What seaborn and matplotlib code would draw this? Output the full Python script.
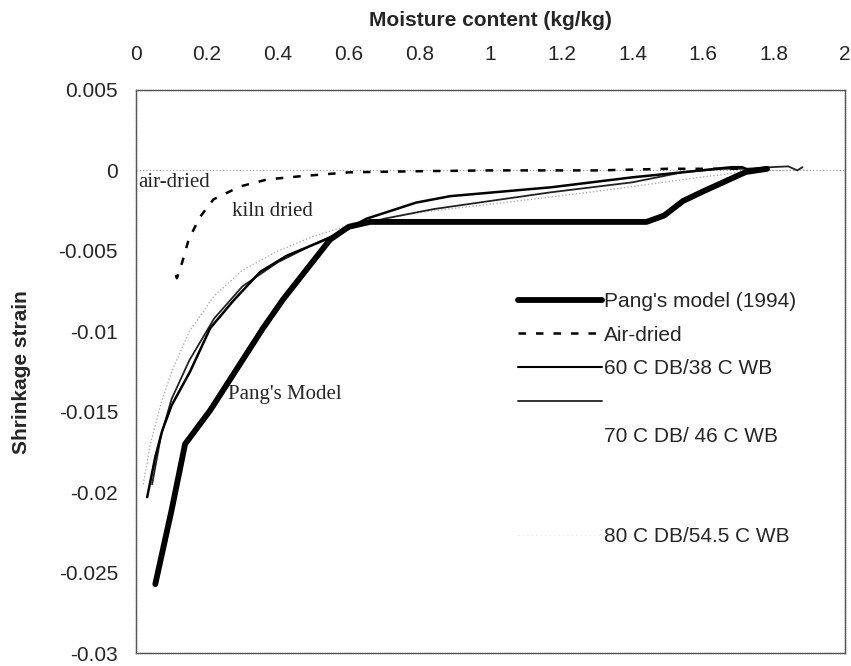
import matplotlib
matplotlib.use("Agg")
import matplotlib.pyplot as plt
import seaborn as sns
from matplotlib.lines import Line2D

# ---- data ----
pang_x = [0.054, 0.10, 0.138, 0.209, 0.358, 0.415, 0.547, 0.60, 0.66, 0.70, 1.0, 1.44, 1.49, 1.543, 1.60, 1.64, 1.72, 1.78]
pang_y = [-0.0257, -0.0211, -0.0170, -0.0149, -0.0098, -0.0080, -0.0043, -0.0035, -0.0032, -0.0032, -0.0032, -0.0032,
          -0.0028, -0.0019, -0.0013, -0.0009, -0.0001, 0.0001]

air_x = [0.112, 0.115, 0.13, 0.148, 0.18, 0.218, 0.293, 0.37, 0.46, 0.60, 0.8, 1.0, 1.3, 1.5, 1.7]
air_y = [-0.0065, -0.0067, -0.0057, -0.0043, -0.0029, -0.0018, -0.0010, -0.00056, -0.00037, -0.00012,
         -0.00005, 0.0, 0.0, 0.0001, 0.0001]

c60_x = [0.031, 0.054, 0.073, 0.10, 0.152, 0.209, 0.274, 0.35, 0.425, 0.556, 0.65, 0.79, 0.886, 1.17,
         1.40, 1.55, 1.68, 1.71, 1.73]
c60_y = [-0.0203, -0.0178, -0.0162, -0.0146, -0.0125, -0.0098, -0.0081, -0.0063, -0.0053, -0.0041, -0.0030,
         -0.0020, -0.0016, -0.00105, -0.00043, -0.0001, 0.0002, 0.0002, 0.0]

c70_x = [0.045, 0.07, 0.10, 0.15, 0.22, 0.30, 0.40, 0.50, 0.60, 0.70, 0.84, 1.17, 1.40, 1.54, 1.65, 1.72,
         1.79, 1.84, 1.865, 1.88]
c70_y = [-0.0195, -0.0165, -0.0142, -0.0118, -0.0092, -0.0072, -0.0057, -0.0046, -0.0036, -0.0030, -0.0024,
         -0.00136, -0.00074, -0.00012, 0.0001, 0.0001, 0.0002, 0.00025, 0.0, 0.0002]

c80_x = [0.02, 0.04, 0.07, 0.10, 0.15, 0.22, 0.30, 0.40, 0.50, 0.60, 0.80, 1.0, 1.3, 1.6, 1.75, 1.9]
c80_y = [-0.0195, -0.0170, -0.0145, -0.0125, -0.0100, -0.0078, -0.0062, -0.0050, -0.0041, -0.0034,
         -0.0026, -0.0021, -0.0013, -0.0004, 0.0, 0.0]

x_ticks = [0, 0.2, 0.4, 0.6, 0.8, 1, 1.2, 1.4, 1.6, 1.8, 2]
x_tick_labels = ["0", "0.2", "0.4", "0.6", "0.8", "1", "1.2", "1.4", "1.6", "1.8", "2"]
y_ticks = [0.005, 0, -0.005, -0.01, -0.015, -0.02, -0.025, -0.03]
y_tick_labels = ["0.005", "0", "-0.005", "-0.01", "-0.015", "-0.02", "-0.025", "-0.03"]

legend_labels = ["Pang's model (1994)", "Air-dried", "60 C DB/38 C WB", "70 C DB/ 46 C WB", "80 C DB/54.5 C WB"]

sns.set_style("white")
plt.rcParams["font.family"] = ["Liberation Sans", "DejaVu Sans"]

fig = plt.figure(figsize=(8.51, 6.66), dpi=100)
ax = fig.add_axes([0.160, 0.019, 0.833, 0.846])

ax.axhline(0, color="#999999", lw=0.8, ls=(0, (1, 2)), zorder=1)

sns.lineplot(x=c80_x, y=c80_y, ax=ax, sort=False, estimator=None, color="#b0b0b0", lw=1.0,
             linestyle=(0, (1, 1.5)))
sns.lineplot(x=c70_x, y=c70_y, ax=ax, sort=False, estimator=None, color="#222222", lw=1.3)
sns.lineplot(x=c60_x, y=c60_y, ax=ax, sort=False, estimator=None, color="black", lw=1.8)
sns.lineplot(x=air_x, y=air_y, ax=ax, sort=False, estimator=None, color="black", lw=1.8,
             linestyle=(0, (3, 4)))
sns.lineplot(x=pang_x, y=pang_y, ax=ax, sort=False, estimator=None, color="black", lw=4.2,
             solid_capstyle="round", solid_joinstyle="round")

ax.set_xlim(0, 2)
ax.set_ylim(-0.03, 0.005)
ax.xaxis.tick_top()
ax.xaxis.set_label_position("top")
ax.set_xticks(x_ticks)
ax.set_xticklabels(x_tick_labels)
ax.set_yticks(y_ticks)
ax.set_yticklabels(y_tick_labels)
ax.tick_params(axis="x", length=0, pad=19, labelsize=15)
ax.tick_params(axis="y", length=0, pad=13, labelsize=15)
ax.set_xlabel("Moisture content (kg/kg)", fontsize=15, fontweight="bold", labelpad=13)
ax.set_ylabel("Shrinkage strain", fontsize=15, fontweight="bold", labelpad=20)

for s in ax.spines.values():
    s.set_color("#555555")
    s.set_linewidth(1.0)
    s.set_linestyle((0, (1, 0.6)))

serif = ["Liberation Serif", "DejaVu Serif"]
ax.text(0.006, -0.00074, "air-dried", family=serif, fontsize=15, va="center", ha="left")
ax.text(0.27, -0.00253, "kiln dried", family=serif, fontsize=15, va="center", ha="left")
ax.text(0.26, -0.01395, "Pang's Model", family=serif, fontsize=15, va="center", ha="left")

h_pang = Line2D([], [], color="black", lw=4.2, solid_capstyle="round")
h_air = Line2D([], [], color="black", lw=1.8, linestyle=(0, (3, 4)))
h_60 = Line2D([], [], color="black", lw=1.5)
h_70 = Line2D([], [], color="#222222", lw=1.3)
h_none = Line2D([], [], color="none")
h_80 = Line2D([], [], color="#e8e8e8", lw=0.8, linestyle=(0, (1, 3)))
handles = [h_pang, h_air, h_60, h_70, h_none, h_none, h_none, h_80]
labels = [legend_labels[0], legend_labels[1], legend_labels[2], " ", legend_labels[3], " ", " ", legend_labels[4]]
ax.legend(handles, labels, loc="upper left", bbox_to_anchor=(0.539, 0.641), frameon=False, fontsize=15,
          handlelength=4.0, handletextpad=0.1, labelspacing=0.7, borderpad=0, borderaxespad=0)

fig.savefig("out.png", dpi=100)
